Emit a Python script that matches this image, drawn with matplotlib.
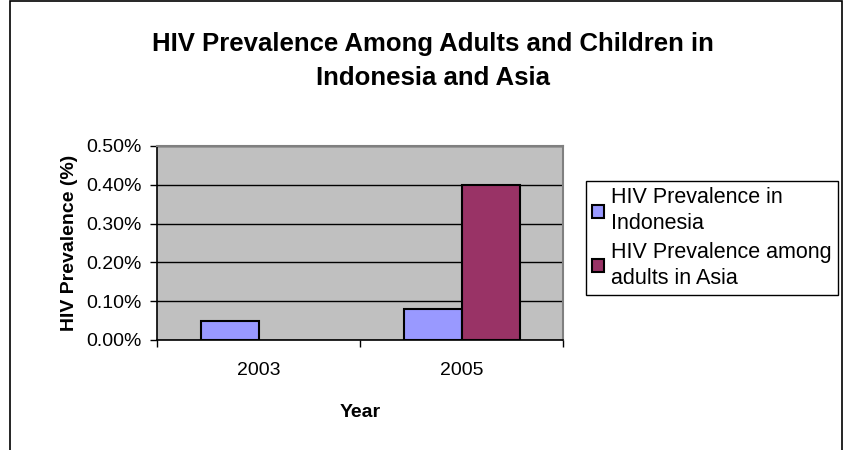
import numpy as np
import matplotlib
matplotlib.use("Agg")
import matplotlib.pyplot as plt
from matplotlib.patches import Rectangle
from matplotlib.ticker import PercentFormatter

plt.rcParams['font.family'] = ['Liberation Sans', 'DejaVu Sans']

# data
years = ['2003', '2005']
indonesia = [0.05, 0.08]
asia = [np.nan, 0.40]
series_names = ['HIV Prevalence in\nIndonesia', 'HIV Prevalence among\nadults in Asia']
colors = ['#9999FF', '#993366']

fig = plt.figure(figsize=(8.44, 4.5), dpi=100)
ax = fig.add_axes([157/844, 1-340/450, (563-157)/844, (340-146)/450])
ax.set_facecolor('#C0C0C0')

x = np.arange(len(years))
w = 1/3.5
b1 = ax.bar(x - w/2, indonesia, w, color=colors[0], edgecolor='black', linewidth=1.5, zorder=3, label=series_names[0])
b2 = ax.bar(x + w/2, asia, w, color=colors[1], edgecolor='black', linewidth=1.5, zorder=3, label=series_names[1])

ax.set_xlim(-0.5, len(years) - 0.5)
ax.set_ylim(0, 0.5)
ax.set_yticks(np.arange(0, 0.51, 0.1))
ax.yaxis.set_major_formatter(PercentFormatter(decimals=2))
ax.grid(axis='y', color='black', linewidth=1, zorder=1)

# category boundaries as ticks, labels in between
ax.set_xticks(np.arange(-0.5, len(years), 1.0))
ax.set_xticklabels([])
ax.set_xticks(x, minor=True)
ax.set_xticklabels(years, minor=True)
ax.tick_params(axis='x', which='minor', length=0, pad=16, labelsize=14)
ax.tick_params(axis='x', which='major', length=5, width=1, direction='out')
ax.tick_params(axis='y', length=5, width=1, direction='out', labelsize=14, pad=6)

for s in ['top', 'right']:
    ax.spines[s].set_color('#808080')
    ax.spines[s].set_linewidth(1.5)
for s in ['left', 'bottom']:
    ax.spines[s].set_color('black')
    ax.spines[s].set_linewidth(1.2)

ax.set_xlabel('Year', fontsize=14, fontweight='bold', labelpad=18)
ax.set_ylabel('HIV Prevalence (%)', fontsize=14, fontweight='bold', labelpad=6)

fig.text(433/844, 1-61/450, 'HIV Prevalence Among Adults and Children in\nIndonesia and Asia',
         ha='center', va='center', fontsize=18.5, fontweight='bold', linespacing=1.5)

leg = fig.legend(handles=[b1, b2], loc='upper left', bbox_to_anchor=(586/844, 1-181/450),
                 frameon=True, fancybox=False, edgecolor='black', framealpha=1,
                 fontsize=15.5, handlelength=0.55, handleheight=0.55, handletextpad=0.3,
                 borderaxespad=0, labelspacing=0.35, borderpad=0.3)
leg.get_frame().set_linewidth(1)
for t in leg.get_texts():
    t.set_linespacing(1.3)

# chart border
fig.patches.append(Rectangle((10/844, -0.1), 832/844, 1.1 - 1/450, transform=fig.transFigure,
                             fill=False, edgecolor='black', linewidth=1.2))

fig.savefig('out.png', dpi=100)
